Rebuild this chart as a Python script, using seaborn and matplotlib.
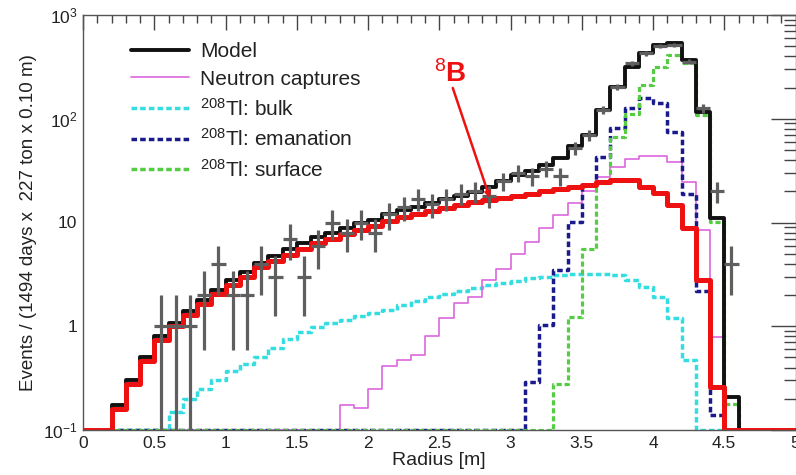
import numpy as np
import pandas as pd
import matplotlib
matplotlib.use("Agg")
import matplotlib.pyplot as plt
from matplotlib.lines import Line2D
from matplotlib.ticker import FixedLocator, FixedFormatter, MultipleLocator, LogLocator, NullFormatter
import seaborn as sns

# Radial distribution, 0.1 m bins from 0 to 5 m
bin_edges = [round(0.1 * i, 1) for i in range(51)]

model = [0, 0, 0.175, 0.30, 0.51, 0.80, 1.08, 1.40, 1.80, 2.25,
         2.8, 3.3, 4.1, 4.8, 5.5, 6.4, 7.2, 7.9, 8.9, 9.8,
         10.6, 12.2, 13.2, 14.2, 15.4, 16.9, 18.2, 19.8, 22.0, 25.0,
         28.7, 31.6, 36.0, 42.0, 55.0, 70.0, 121.0, 204.0, 318.0, 427.0,
         514.0, 534.0, 368.0, 117.0, 11.0, 0.21, 0, 0, 0, 0]

boron8 = [0, 0, 0.158, 0.275, 0.46, 0.74, 1.0, 1.28, 1.64, 2.03,
          2.5, 3.0, 3.7, 4.3, 4.9, 5.6, 6.3, 6.9, 7.7, 8.5,
          9.2, 10.3, 11.2, 12.0, 12.8, 13.8, 14.7, 15.6, 16.4, 17.2,
          18.0, 19.0, 20.0, 21.0, 22.0, 23.0, 24.5, 25.5, 25.5, 22.0,
          19.2, 14.8, 8.8, 2.78, 0.26, 0, 0, 0, 0, 0]

neutron = [0] * 18 + [0.174, 0.163, 0.25, 0.41, 0.47, 0.53, 0.80, 1.2, 1.66, 1.93,
                      2.78, 3.6, 5.0, 6.5, 8.8, 11.8, 15.3, 20.0, 27.5, 34.6,
                      41.0, 43.4, 43.4, 38.6, 24.6, 8.45, 0.79, 0, 0, 0, 0, 0]

tl_bulk = [0] * 6 + [0.15, 0.20, 0.25, 0.30, 0.37, 0.43, 0.51, 0.62, 0.75, 0.88,
                     0.98, 1.07, 1.15, 1.25, 1.35, 1.45, 1.6, 1.75, 1.9, 2.05,
                     2.2, 2.35, 2.5, 2.6, 2.75, 2.9, 3.0, 3.1, 3.2, 3.2,
                     3.2, 3.15, 2.8, 2.4, 1.93, 1.19, 0.47, 0, 0, 0, 0, 0, 0, 0]

tl_emanation = [0] * 31 + [0.29, 1.02, 3.48, 10.2, 23.0, 43.0, 82.0, 126.0, 157.0,
                           141.0, 75.0, 19.0, 2.2, 0.14, 0, 0, 0, 0, 0]

tl_surface = [0] * 33 + [0.28, 1.23, 5.6, 24.0, 66.0, 110.0, 211.0,
                         318.0, 411.0, 342.0, 109.0, 10.2, 0.18, 0, 0, 0, 0]

data_counts = [0, 0, 0, 0, 0, 1, 1, 1, 2, 4,
               2, 2, 4, 3, 7, 3, 6, 10, 8, 10,
               8, 12, 14, 17, 15, 17, 19, 20, 18, 25,
               30, 28, 33, 28, 52, 70, 121, 204, 342, 427,
               500, 514, 355, 126, 20, 4, 0, 0, 0, 0]

y_min, y_max = 0.1, 1000.0

sns.set_theme(style="white")
plt.rcParams["font.family"] = ["Liberation Sans", "DejaVu Sans"]
plt.rcParams["mathtext.fontset"] = "custom"
plt.rcParams["mathtext.rm"] = "Liberation Sans"
plt.rcParams["mathtext.it"] = "Liberation Sans:italic"
plt.rcParams["mathtext.bf"] = "Liberation Sans:bold"

fig = plt.figure(figsize=(7.96, 4.75), dpi=100)
ax = fig.add_axes([83 / 796, 45 / 475, 712.5 / 796, 415 / 475])
ax.set_yscale("log")

edges_arr = np.asarray(bin_edges)
centers = 0.5 * (edges_arr[:-1] + edges_arr[1:])

dash = (0, (1.6, 0.9))
styles = [
    (tl_bulk, "#33dde0", 2.5, dash),
    (neutron, "#dd66dd", 1.2, "-"),
    (tl_emanation, "#1a1a8c", 2.5, dash),
    (tl_surface, "#55cc44", 2.3, dash),
    (model, "#111111", 2.8, "-"),
    (boron8, "#ee1111", 3.6, "-"),
]
for values, color, lw, ls in styles:
    frame = pd.DataFrame({
        "radius": centers,
        "events": np.clip(np.asarray(values, dtype=float), y_min, None),
    })
    sns.histplot(data=frame, x="radius", weights="events", bins=bin_edges,
                 element="step", fill=False, color=color, linewidth=lw,
                 linestyle=ls, ax=ax)

# Measured counts with sqrt(N) errors
counts = np.asarray(data_counts, dtype=float)
shown = counts > 0
err = np.sqrt(counts[shown])
lower = np.minimum(err, counts[shown] - y_min * 0.999)
ax.errorbar(centers[shown], counts[shown], yerr=[lower, err], xerr=0.05,
            fmt="none", ecolor="#5f5f5f", elinewidth=2.3, capsize=0, zorder=6)

# Arrow label for the 8B component
ax.annotate("", xy=(2.855, 17.2), xytext=(2.595, 198),
            arrowprops=dict(arrowstyle="-|>", color="#ee1111", lw=1.8,
                            mutation_scale=8, shrinkA=0, shrinkB=0), zorder=7)
ax.text(2.46, 225, r"$^{8}$B", color="#ee1111", fontsize=20, fontweight="bold",
        ha="left", va="baseline")

ax.set_xlim(0, 5)
ax.set_ylim(y_min, y_max)

xt = [0, 0.5, 1, 1.5, 2, 2.5, 3, 3.5, 4, 4.5, 5]
ax.xaxis.set_major_locator(FixedLocator(xt))
ax.xaxis.set_major_formatter(FixedFormatter(["0", "0.5", "1", "1.5", "2", "2.5",
                                             "3", "3.5", "4", "4.5", "5"]))
ax.xaxis.set_minor_locator(MultipleLocator(0.1))
ax.yaxis.set_major_locator(FixedLocator([0.1, 1, 10, 100, 1000]))
ax.yaxis.set_major_formatter(FixedFormatter([r"$10^{-1}$", "1", "10",
                                             r"$10^{2}$", r"$10^{3}$"]))
ax.yaxis.set_minor_locator(LogLocator(base=10, subs=np.arange(2, 10), numticks=20))
ax.yaxis.set_minor_formatter(NullFormatter())

ax.tick_params(axis="both", which="both", direction="in", colors="#444444",
               top=True, right=True, labelsize=12.5, labelcolor="#222222")
ax.tick_params(axis="x", which="major", length=11, width=1.0, pad=4)
ax.tick_params(axis="x", which="minor", length=6, width=1.0)
ax.tick_params(axis="y", which="major", length=18, width=1.0, pad=4)
ax.tick_params(axis="y", which="minor", length=9, width=1.0)
for sp in ax.spines.values():
    sp.set_color("#555555")
    sp.set_linewidth(1.0)

ax.set_xlabel("Radius [m]", fontsize=14, color="#222222", labelpad=1)
ax.set_ylabel("Events / (1494 days x  227 ton x 0.10 m)", fontsize=13.5,
              color="#222222", labelpad=4)
ax.grid(False)

handles = [
    Line2D([], [], color="#111111", lw=2.8),
    Line2D([], [], color="#dd66dd", lw=1.2),
    Line2D([], [], color="#33dde0", lw=2.5, ls=dash),
    Line2D([], [], color="#1a1a8c", lw=2.5, ls=dash),
    Line2D([], [], color="#55cc44", lw=2.5, ls=dash),
]
labels = ["Model", "Neutron captures", r"$^{208}$Tl: bulk",
          r"$^{208}$Tl: emanation", r"$^{208}$Tl: surface"]
leg = ax.legend(handles, labels, loc="upper left", bbox_to_anchor=(0.055, 0.955),
                frameon=False, fontsize=15, handlelength=2.8, handletextpad=0.55,
                labelspacing=0.42, borderaxespad=0)
for t in leg.get_texts():
    t.set_color("#222222")

fig.savefig("out.png", dpi=100)
